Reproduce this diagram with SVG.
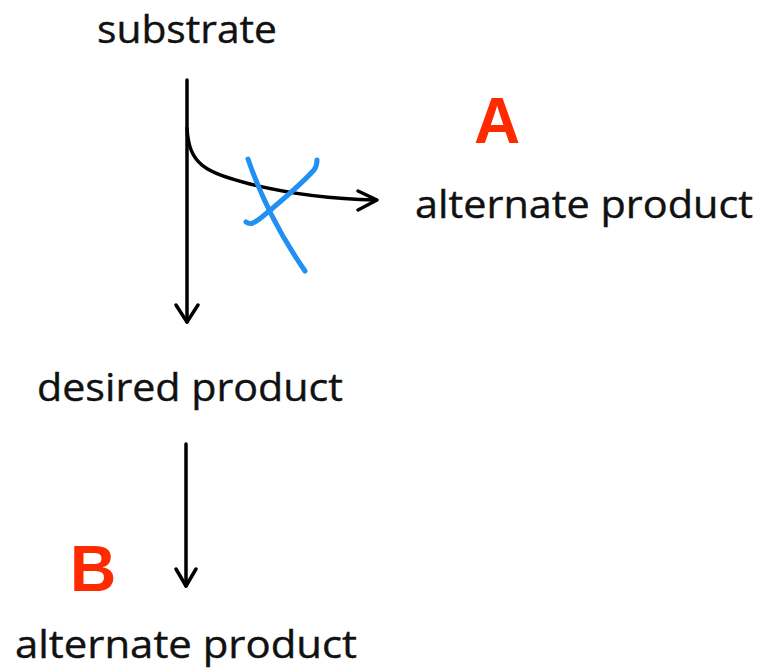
<svg xmlns="http://www.w3.org/2000/svg" width="765" height="670" viewBox="0 0 765 670">
<style>
.lbl{font-family:"Open Sans","DejaVu Sans",sans-serif;font-size:39px;fill:#111;stroke:#111;stroke-width:0.4}
.tag{font-family:"Liberation Sans",Arial,sans-serif;font-weight:bold;font-size:64px;fill:#ff2a00}
.ln{fill:none;stroke:#000;stroke-width:3.5;stroke-linecap:round;stroke-linejoin:round}
.x{fill:none;stroke:#2290f2;stroke-width:5;stroke-linecap:round;stroke-linejoin:round}
</style>
<rect width="765" height="670" fill="#fff"/>
<g id="connectors">
<path class="ln" d="M187,80 L187,322"/>
<path class="ln" d="M176,305 L187,322 L198,305"/>
<path class="ln" d="M187,128 C189,165 205,172 250,184 C290,194 330,199 376,200"/>
<path class="ln" d="M358,191 L377,200 L358,210"/>
<path class="ln" d="M186,444 L186,586"/>
<path class="ln" d="M176,569 L186,586 L196,569"/>
</g>
<g id="cross">
<path class="x" d="M248,159 C262,200 280,235 305,271"/>
<path class="x" d="M246,222 C250,225 253,224 262,217 C285,198 305,180 314,170 C317,166 317,163 317,160"/>
</g>
<g id="substrate"><text class="lbl" x="187" y="43" text-anchor="middle" textLength="180" lengthAdjust="spacingAndGlyphs">substrate</text></g>
<g id="alt-product-a"><text class="lbl" x="415" y="218" textLength="338" lengthAdjust="spacingAndGlyphs">alternate product</text></g>
<g id="desired-product"><text class="lbl" x="37" y="401" textLength="306" lengthAdjust="spacingAndGlyphs">desired product</text></g>
<g id="alt-product-b"><text class="lbl" x="15" y="658" textLength="342" lengthAdjust="spacingAndGlyphs">alternate product</text></g>
<g id="label-a"><text class="tag" x="474" y="143">A</text></g>
<g id="label-b"><text class="tag" x="70" y="591">B</text></g>
</svg>
